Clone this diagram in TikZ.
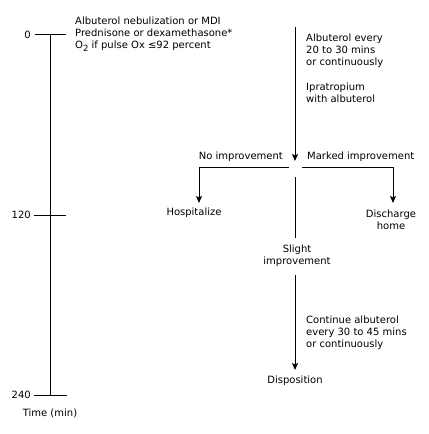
\documentclass[tikz,border=0pt]{standalone}
\usepackage{fontspec}
\setmainfont{DejaVu Sans}
\usetikzlibrary{arrows.meta}
\begin{document}
\begin{tikzpicture}[x=1bp,y=-1bp,
  every node/.style={font=\fontsize{10bp}{12bp}\selectfont, inner sep=0pt},
  ln/.style={line width=1bp},
  arr/.style={ln,-{Stealth[length=7bp,width=6bp,inset=1.5bp]}},
  txt/.style={align=left, anchor=west},
  ctr/.style={align=center}]
\useasboundingbox (0,0) rectangle (428,434);
% timeline
\coordinate (top) at (50,35);
\coordinate (mid) at (50,215);
\coordinate (bot) at (50,395);
\draw[ln] (top) -- (bot);
\draw[ln] (35,35) -- (66,35);
\draw[ln] (34,215) -- (66,215);
\draw[ln] (34,395) -- (67,395);
\node[anchor=east] (l0) at (31,35) {0};
\node[anchor=east] (l120) at (31,215) {120};
\node[anchor=east] (l240) at (31,395) {240};
\node (time) at (50,413) {Time (min)};
% initial text
\node[txt] (init) at (75,34) {Albuterol nebulization or MDI\\Prednisone or dexamethasone*\\O\raisebox{-2.5bp}{\fontsize{8.5bp}{8.5bp}\selectfont 2} if pulse Ox ≤92 percent};
% main arrow
\coordinate (a1s) at (295,27);
\coordinate (a1e) at (295,161);
\draw[arr] (a1s) -- (a1e);
\node[txt] (r1) at (306,51) {Albuterol every\\20 to 30 mins\\or continuously};
\node[txt] (r2) at (306,93) {Ipratropium\\with albuterol};
\node[anchor=east] (noimp) at (283,157) {No improvement};
\node[anchor=west] (mark) at (307,157) {Marked improvement};
% branches
\coordinate (bl) at (289,168);
\coordinate (bl2) at (199,168);
\coordinate (bl3) at (199,203);
\draw[arr] (bl) -- (bl2) -- (bl3);
\coordinate (br) at (302,168);
\coordinate (br2) at (393,168);
\coordinate (br3) at (393,203);
\draw[arr] (br) -- (br2) -- (br3);
\node (hosp) at (194,213) {Hospitalize};
\node[ctr] (disch) at (391,220) {Discharge\\home};
% slight
\coordinate (s1) at (295,177);
\coordinate (s2) at (295,238);
\draw[ln] (s1) -- (s2);
\node[ctr] (slight) at (297,256) {Slight\\improvement};
\coordinate (c1) at (295,275);
\coordinate (c2) at (295,370);
\draw[arr] (c1) -- (c2);
\node[txt] (cont) at (306,333) {Continue albuterol\\every 30 to 45 mins\\or continuously};
\node (disp) at (295,381) {Disposition};
\end{tikzpicture}
\end{document}
